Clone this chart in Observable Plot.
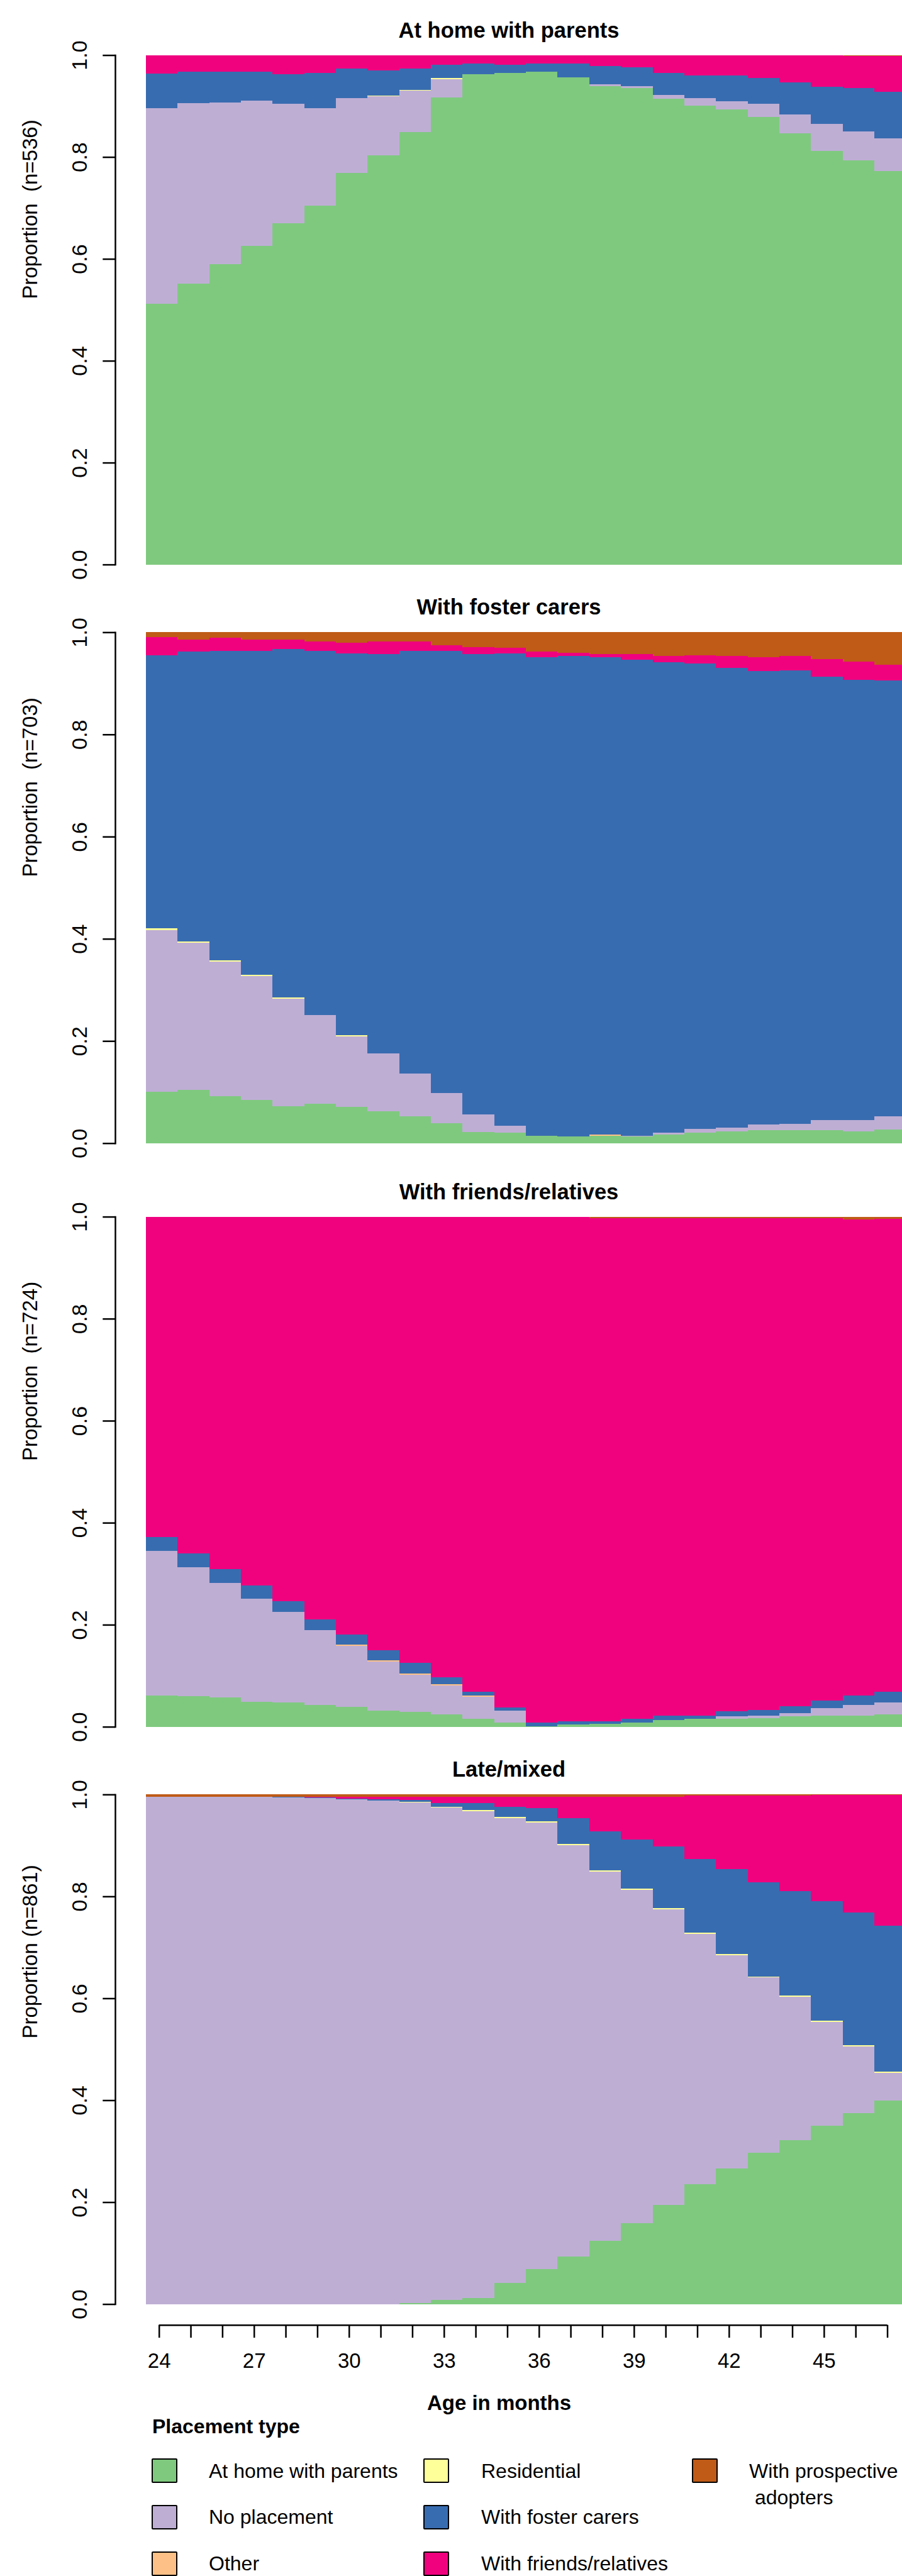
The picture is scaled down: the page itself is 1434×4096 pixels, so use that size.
<!DOCTYPE html>
<html>
<head>
<meta charset="utf-8">
<script src="https://cdn.jsdelivr.net/npm/d3@7"></script>
<script src="https://cdn.jsdelivr.net/npm/@observablehq/plot@0.6"></script>
<style>
  html, body { margin: 0; padding: 0; background: #fff; overflow: hidden; }
  #wrap { position: relative; width: 1434px; height: 4096px; overflow: hidden; font-family: "Liberation Sans", Arial, Helvetica, sans-serif; color: #000; }
  #wrap svg text { white-space: pre; }
  .panel { position: absolute; left: 0; }
  .sw { position: absolute; box-sizing: border-box; border: 2.6px solid #000; border-radius: 2px; }
  .lt { position: absolute; font-size: 32px; line-height: 1; white-space: pre; }
</style>
</head>
<body>
<div id="wrap"></div>
<script>
// ---------- data ----------
const months = [24,25,26,27,28,29,30,31,32,33,34,35,36,37,38,39,40,41,42,43,44,45,46,47];
const labelledMonths = [24,27,30,33,36,39,42,45];
const yTicks = [0, 0.2, 0.4, 0.6, 0.8, 1.0];
const states = ["At home with parents","No placement","Other","Residential","With foster carers","With friends/relatives","With prospective adopters"];
const stateColors = ["#7FC97F","#BEAED4","#FDC086","#FFFF99","#386CB0","#F0027F","#BF5B17"];
const panelTitles = ["At home with parents","With foster carers","With friends/relatives","Late/mixed"];
const panelYLabels = ["Proportion  (n=536)","Proportion  (n=703)","Proportion  (n=724)","Proportion (n=861)"];

// Panel 1: At home with parents
const p1Home    = [0.512,0.551,0.590,0.625,0.670,0.704,0.769,0.803,0.849,0.917,0.962,0.965,0.968,0.956,0.939,0.935,0.914,0.901,0.893,0.878,0.846,0.812,0.793,0.772];
const p1None    = [0.384,0.355,0.317,0.286,0.234,0.192,0.146,0.116,0.081,0.036,0,0,0,0,0.004,0.004,0.008,0.014,0.017,0.026,0.037,0.053,0.057,0.064];
const p1Other   = [0,0,0,0,0,0,0,0,0,0,0,0,0,0,0,0,0,0,0,0,0,0,0,0];
const p1Resid   = [0,0,0,0,0,0,0,0.002,0.002,0.002,0,0,0,0,0,0,0,0,0,0,0,0,0,0];
const p1Foster  = [0.068,0.061,0.060,0.056,0.058,0.069,0.058,0.049,0.042,0.026,0.022,0.016,0.016,0.028,0.035,0.037,0.043,0.045,0.050,0.051,0.064,0.073,0.085,0.092];
const p1Friends = [0.036,0.033,0.033,0.033,0.038,0.035,0.027,0.030,0.026,0.019,0.016,0.019,0.016,0.016,0.022,0.024,0.035,0.040,0.040,0.045,0.053,0.062,0.063,0.070];
const p1Adopt   = [0,0,0,0,0,0,0,0,0,0,0,0,0,0,0,0,0,0,0,0,0,0,0.002,0.002];

// Panel 2: With foster carers
const p2Home    = [0.101,0.104,0.092,0.084,0.072,0.077,0.071,0.062,0.052,0.039,0.022,0.021,0.015,0.013,0.015,0.013,0.017,0.020,0.023,0.026,0.026,0.026,0.023,0.027];
const p2None    = [0.316,0.288,0.263,0.243,0.211,0.174,0.138,0.114,0.084,0.059,0.034,0.013,0,0,0,0.002,0.004,0.008,0.008,0.011,0.012,0.019,0.022,0.025];
const p2Other   = [0,0,0,0,0,0,0,0,0,0,0,0,0,0,0.002,0,0,0,0,0,0,0,0,0];
const p2Resid   = [0.003,0.003,0.003,0.002,0.002,0,0.002,0,0,0,0,0,0,0,0,0,0,0,0,0,0,0,0,0];
const p2Foster  = [0.535,0.567,0.605,0.635,0.682,0.712,0.748,0.781,0.828,0.865,0.901,0.925,0.936,0.940,0.934,0.931,0.920,0.911,0.899,0.887,0.887,0.868,0.862,0.853];
const p2Friends = [0.035,0.023,0.026,0.022,0.018,0.019,0.021,0.025,0.018,0.012,0.014,0.011,0.011,0.007,0.006,0.011,0.012,0.016,0.023,0.027,0.028,0.034,0.035,0.031];
const p2Adopt   = [0.010,0.015,0.011,0.014,0.015,0.018,0.020,0.018,0.018,0.025,0.029,0.030,0.038,0.040,0.043,0.043,0.047,0.045,0.047,0.049,0.047,0.053,0.058,0.064];

// Panel 3: With friends/relatives
const p3Home    = [0.061,0.060,0.057,0.049,0.047,0.043,0.039,0.031,0.029,0.024,0.015,0.008,0.001,0.004,0.006,0.008,0.013,0.016,0.016,0.017,0.020,0.022,0.022,0.024];
const p3None    = [0.284,0.253,0.225,0.202,0.178,0.147,0.120,0.097,0.073,0.057,0.044,0.023,0,0,0,0,0,0,0.004,0.005,0.007,0.014,0.021,0.024];
const p3Other   = [0,0,0,0,0,0,0.002,0.002,0.002,0.002,0.002,0,0,0,0,0,0,0,0,0,0,0,0,0];
const p3Resid   = [0,0,0,0,0,0,0,0,0,0,0,0,0,0,0,0,0,0,0,0,0,0,0,0];
const p3Foster  = [0.027,0.027,0.027,0.026,0.021,0.020,0.020,0.020,0.021,0.014,0.008,0.007,0.007,0.006,0.004,0.007,0.009,0.006,0.010,0.011,0.013,0.015,0.018,0.020];
const p3Friends = [0.627,0.659,0.690,0.722,0.753,0.789,0.818,0.849,0.874,0.902,0.930,0.961,0.991,0.989,0.987,0.982,0.975,0.975,0.967,0.964,0.957,0.946,0.934,0.928];
const p3Adopt   = [0.001,0.001,0.001,0.001,0.001,0.001,0.001,0.001,0.001,0.001,0.001,0.001,0.001,0.001,0.003,0.003,0.003,0.003,0.003,0.003,0.003,0.003,0.005,0.004];

// Panel 4: Late/mixed
const p4Home    = [0,0,0,0,0,0,0,0,0.002,0.008,0.012,0.041,0.068,0.093,0.124,0.159,0.195,0.235,0.266,0.297,0.322,0.350,0.375,0.399];
const p4None    = [0.995,0.995,0.995,0.995,0.994,0.993,0.991,0.988,0.982,0.966,0.955,0.913,0.877,0.808,0.725,0.654,0.580,0.492,0.419,0.344,0.281,0.204,0.131,0.055];
const p4Other   = [0,0,0,0,0,0,0,0,0,0,0,0,0,0,0,0,0,0,0,0,0,0,0,0];
const p4Resid   = [0,0,0,0,0,0,0,0,0.002,0.002,0.002,0.002,0.002,0.002,0.002,0.002,0.002,0.002,0.002,0.002,0.002,0.002,0.002,0.002];
const p4Foster  = [0,0,0,0,0.001,0.001,0.001,0.003,0.003,0.007,0.014,0.020,0.026,0.051,0.077,0.096,0.121,0.144,0.166,0.184,0.205,0.235,0.260,0.286];
const p4Friends = [0,0,0,0,0,0.001,0.003,0.004,0.006,0.012,0.012,0.019,0.022,0.041,0.067,0.084,0.097,0.1255,0.1445,0.1705,0.1875,0.208,0.231,0.257];
const p4Adopt   = [0.005,0.005,0.005,0.005,0.005,0.005,0.005,0.005,0.005,0.005,0.005,0.005,0.005,0.005,0.005,0.005,0.005,0.0015,0.0025,0.0025,0.0025,0.001,0.001,0.001];

const panelSeries = [
  [p1Home,p1None,p1Other,p1Resid,p1Foster,p1Friends,p1Adopt],
  [p2Home,p2None,p2Other,p2Resid,p2Foster,p2Friends,p2Adopt],
  [p3Home,p3None,p3Other,p3Resid,p3Foster,p3Friends,p3Adopt],
  [p4Home,p4None,p4Other,p4Resid,p4Foster,p4Friends,p4Adopt]
];

// ---------- layout (px in the 1434-wide page) ----------
const FONT = "'Liberation Sans', Arial, Helvetica, sans-serif";
const layout = [
  {top: 0,    height: 940,  marginTop: 87.6, marginBottom: 42.4},
  {top: 940,  height: 920,  marginTop: 65.3, marginBottom: 42.3},
  {top: 1860, height: 930,  marginTop: 74.6, marginBottom: 44.4},
  {top: 2790, height: 1060, marginTop: 63.3, marginBottom: 186.4}
];
const X0 = 252.7, DX = 50.34;

const wrap = document.getElementById("wrap");

panelSeries.forEach((series, p) => {
  const rows = [];
  states.forEach((s, i) => months.forEach((m, j) => rows.push({month: m, state: s, value: series[i][j]})));
  const L = layout[p];
  const last = p === 3;
  const marks = [
    Plot.rectY(rows, {
      x1: d => d.month - 0.41, x2: d => d.month + 0.59, y: "value",
      fill: "state", order: states, shapeRendering: "crispEdges"
    }),
    Plot.frame({anchor: "left", strokeWidth: 2.5}),
    Plot.axisY({anchor: "left", ticks: yTicks, tickFormat: d => d.toFixed(1),
      tickSize: 19.7, tickPadding: 25.7, tickRotate: -90, fontSize: 34, strokeWidth: 2.5, label: null}),
    Plot.text([panelTitles[p]], {frameAnchor: "top", dy: -28.6, lineAnchor: "bottom",
      fontWeight: "bold", fontSize: 34.5}),
    Plot.text([panelYLabels[p]], {frameAnchor: "left", rotate: -90, dx: -124.9, dy: -17.5,
      lineAnchor: "bottom", fontSize: 33})
  ];
  if (last) {
    marks.push(
      Plot.ruleY([0], {x1: months[0], x2: months[months.length - 1], dy: 33.1, strokeWidth: 2.5}),
      Plot.axisX({anchor: "bottom", ticks: months,
        tickFormat: d => labelledMonths.includes(d) ? String(d) : "",
        tickSize: 20.4, tickPadding: 23.8, fontSize: 33, strokeWidth: 2.5, dy: 33.1, label: null}),
      Plot.text(["Age in months"], {frameAnchor: "bottom", dy: 167.4, dx: -15.5, lineAnchor: "bottom",
        fontWeight: "bold", fontSize: 33})
    );
  }
  const chart = Plot.plot({
    width: 1434, height: L.height,
    marginLeft: 183, marginRight: 0, marginTop: L.marginTop, marginBottom: L.marginBottom,
    x: {domain: [months[0], months[months.length - 1]], range: [X0, X0 + (months.length - 1) * DX], axis: last ? undefined : null},
    y: {domain: [0, 1]},
    color: {domain: states, range: stateColors},
    style: {fontFamily: FONT, overflow: "hidden", color: "#000", background: "transparent"},
    marks
  });
  chart.classList.add("panel");
  chart.style.top = L.top + "px";
  wrap.appendChild(chart);
});

// ---------- legend ----------
function addText(txt, left, baseline, size, bold) {
  const d = document.createElement("div");
  d.className = "lt";
  d.textContent = txt;
  d.style.left = left + "px";
  d.style.fontSize = size + "px";
  d.style.top = (baseline - 0.8465 * size) + "px";
  if (bold) d.style.fontWeight = "bold";
  wrap.appendChild(d);
}
addText("Placement type", 242, 3869, 32, true);
const colLeft = [240.8, 673, 1099.6];
const colText = [332, 765, 1191];
const rowTop = [3908.6, 3983, 4057];
const rowBase = [3939.6, 4013.5, 4087.4];
states.forEach((s, i) => {
  const c = Math.floor(i / 3), r = i % 3;
  const sw = document.createElement("div");
  sw.className = "sw";
  sw.style.left = colLeft[c] + "px";
  sw.style.top = rowTop[r] + "px";
  sw.style.width = "41.3px";
  sw.style.height = "39px";
  sw.style.background = stateColors[i];
  wrap.appendChild(sw);
  if (s === "With prospective adopters") {
    addText("With prospective", colText[c], rowBase[r], 32, false);
    addText(" adopters", colText[c], rowBase[r] + 42, 32, false);
  } else {
    addText(s, colText[c], rowBase[r], 32, false);
  }
});
</script>
</body>
</html>
